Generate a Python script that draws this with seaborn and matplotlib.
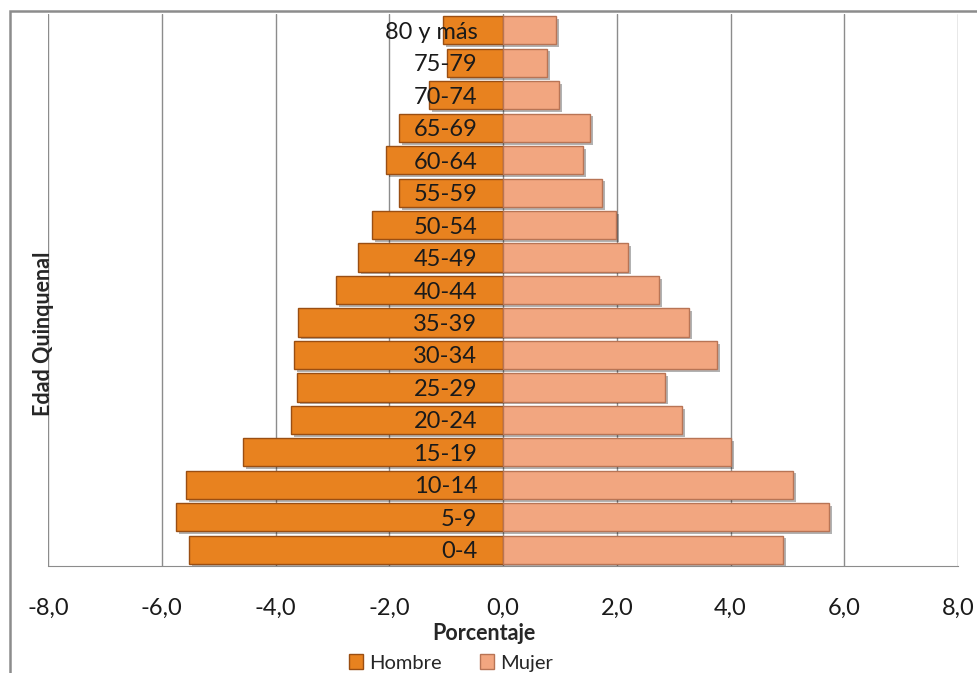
import pandas as pd
import numpy as np
import matplotlib
matplotlib.use("Agg")
import matplotlib.pyplot as plt
import matplotlib.patheffects as pe
from matplotlib.ticker import FuncFormatter
import seaborn as sns

# ---------------- data ----------------
ages = ["0-4", "5-9", "10-14", "15-19", "20-24", "25-29", "30-34", "35-39",
        "40-44", "45-49", "50-54", "55-59", "60-64", "65-69", "70-74",
        "75-79", "80 y más"]
hombre = [5.52, 5.75, 5.57, 4.57, 3.73, 3.62, 3.67, 3.60, 2.94, 2.55,
          2.30, 1.83, 2.06, 1.83, 1.30, 0.98, 1.05]
mujer = [4.92, 5.73, 5.10, 4.01, 3.15, 2.85, 3.76, 3.27, 2.74, 2.20,
         1.99, 1.74, 1.41, 1.53, 0.98, 0.77, 0.93]
x_ticks = [-8, -6, -4, -2, 0, 2, 4, 6, 8]

df = pd.DataFrame({
    "Edad": ages * 2,
    "Porcentaje": [-v for v in hombre] + mujer,
    "Sexo": ["Hombre"] * len(ages) + ["Mujer"] * len(ages),
})

colors = {"Hombre": "#E8821F", "Mujer": "#F2A680"}
edges = {"Hombre": "#9A4E12", "Mujer": "#B87455"}

sns.set_style("white")
plt.rcParams["font.family"] = ["Lato", "DejaVu Sans"]

fig = plt.figure(figsize=(9.78, 6.73), dpi=100)
ax = fig.add_axes([0.0491, 0.159, 0.9305, 0.820])

sns.barplot(data=df, x="Porcentaje", y="Edad", hue="Sexo",
            order=ages[::-1], hue_order=["Hombre", "Mujer"],
            palette=colors, saturation=1, dodge=False, width=0.87, orient="h",
            linewidth=1.0, legend=False, ax=ax)

shadow = [pe.SimplePatchShadow(offset=(2, -2), shadow_rgbFace="black", alpha=0.3), pe.Normal()]
for cont, sexo in zip(ax.containers, ["Hombre", "Mujer"]):
    for bar in cont:
        bar.set_edgecolor(edges[sexo])
        bar.set_path_effects(shadow)
        bar.set_zorder(2)

# axes
ax.set_xlim(-8, 8)
ax.set_ylim(len(ages) - 0.5, -0.5)
ax.set_xticks(x_ticks)
ax.xaxis.set_major_formatter(FuncFormatter(lambda v, p: f"{v:.1f}".replace(".", ",")))
ax.set_axisbelow(True)
ax.grid(axis="x", color="#8C8C8C", linewidth=1)
ax.grid(axis="y", visible=False)

ax.spines["top"].set_visible(False)
ax.spines["right"].set_visible(False)
ax.spines["left"].set_position(("data", 0))
ax.spines["left"].set_visible(False)
ax.spines["bottom"].set_color("#8C8C8C")

ax.yaxis.set_zorder(5)
ax.tick_params(axis="y", length=0, pad=18.5, labelsize=17, labelcolor="#1a1a1a")
ax.tick_params(axis="x", length=0, pad=23, labelsize=17, labelcolor="#1a1a1a")
ax.set_xlabel("")
ax.set_ylabel("")

fig.text(484 / 978, 1 - 633 / 673, "Porcentaje", ha="center", va="center",
         fontsize=15.5, fontweight="bold")
fig.text(44 / 978, 1 - 334 / 673, "Edad Quinquenal", ha="center", va="center",
         rotation=90, fontsize=15.5, fontweight="bold")

handles = [plt.Rectangle((0, 0), 1, 1, facecolor=colors[s], edgecolor=edges[s]) for s in ["Hombre", "Mujer"]]
fig.legend(handles, ["Hombre", "Mujer"], loc="center", bbox_to_anchor=(451 / 978, 1 - 663 / 673),
           ncol=2, frameon=False, fontsize=14.5, handlelength=0.7, handleheight=0.7,
           handletextpad=0.3, columnspacing=1.9, borderpad=0)

# chart frame
fig.add_artist(plt.Rectangle((10 / 978, -0.05), 1.0, 1 - 11 / 673 + 0.05,
                             transform=fig.transFigure, fill=False,
                             edgecolor="#8C8C8C", linewidth=1.8))

fig.savefig("out.png", dpi=100)
